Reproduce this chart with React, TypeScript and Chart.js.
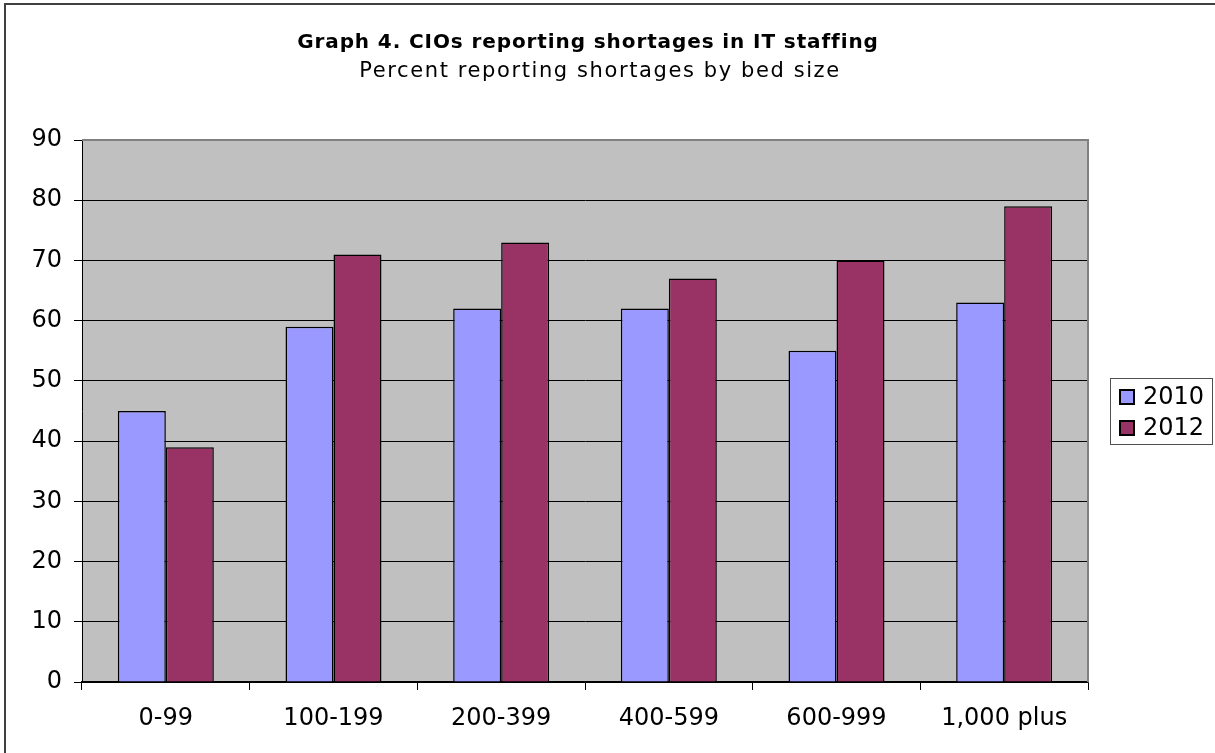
import React, { useEffect, useRef } from "react";
import { Chart, registerables } from "chart.js";

Chart.register(...registerables);

// Bed-size groups and the share of CIOs reporting staffing shortages
const categories = ["0-99", "100-199", "200-399", "400-599", "600-999", "1,000 plus"];
const seriesLabels = ["2010", "2012"];
const values2010 = [45, 59, 62, 62, 55, 63];
const values2012 = [39, 71, 73, 67, 70, 79];
const yMin = 0;
const yMax = 90;
const yStep = 10;

const titleText = "Graph 4. CIOs reporting shortages in IT staffing";
const subtitleText = "Percent reporting shortages by bed size";

const FONT = "'DejaVu Sans', Verdana, sans-serif";

// Frame, plot background, headings and boxed legend drawn on the canvas
const decorPlugin = {
  id: "decor",
  beforeDraw(chart: any) {
    const { ctx, chartArea, width, height } = chart;
    ctx.save();
    ctx.fillStyle = "#ffffff";
    ctx.fillRect(0, 0, width, height);
    // outer chart frame
    ctx.strokeStyle = "#404040";
    ctx.lineWidth = 2;
    ctx.beginPath();
    ctx.moveTo(5, height);
    ctx.lineTo(5, 4);
    ctx.lineTo(width, 4);
    ctx.stroke();
    // plot background
    ctx.fillStyle = "#C0C0C0";
    ctx.fillRect(chartArea.left, chartArea.top, chartArea.right - chartArea.left, chartArea.bottom - chartArea.top);
    // headings
    ctx.fillStyle = "#000000";
    ctx.textAlign = "center";
    ctx.textBaseline = "alphabetic";
    ctx.font = `bold 20px ${FONT}`;
    ctx.letterSpacing = "0.9px";
    ctx.fillText(titleText, 588, 48);
    ctx.font = `21px ${FONT}`;
    ctx.letterSpacing = "1.6px";
    ctx.fillText(subtitleText, 600, 77);
    ctx.letterSpacing = "0px";
    ctx.restore();
  },
  beforeDatasetsDraw(chart: any) {
    const { ctx, chartArea } = chart;
    ctx.save();
    ctx.strokeStyle = "#808080";
    ctx.lineWidth = 2;
    ctx.beginPath();
    ctx.moveTo(chartArea.left, chartArea.top);
    ctx.lineTo(chartArea.right, chartArea.top);
    ctx.lineTo(chartArea.right, chartArea.bottom);
    ctx.stroke();
    ctx.restore();
  },
  afterDraw(chart: any) {
    const { ctx } = chart;
    const datasets = chart.data.datasets;
    const boxL = 1110;
    const boxT = 378;
    const boxW = 102;
    const rowH = 31;
    const boxH = 66;
    ctx.save();
    ctx.fillStyle = "#ffffff";
    ctx.fillRect(boxL, boxT, boxW, boxH);
    ctx.strokeStyle = "#505050";
    ctx.lineWidth = 1;
    ctx.strokeRect(boxL + 0.5, boxT + 0.5, boxW, boxH);
    ctx.font = `24px ${FONT}`;
    ctx.textAlign = "left";
    ctx.textBaseline = "middle";
    datasets.forEach((ds: any, i: number) => {
      const cy = boxT + 19 + i * rowH;
      ctx.fillStyle = ds.backgroundColor;
      ctx.fillRect(1120, cy - 7, 14, 14);
      ctx.strokeStyle = "#000000";
      ctx.lineWidth = 2;
      ctx.strokeRect(1120, cy - 7, 14, 14);
      ctx.fillStyle = "#000000";
      ctx.fillText(ds.label, 1143, cy + 1);
    });
    ctx.restore();
  },
};

export default function App() {
  const canvasRef = useRef<HTMLCanvasElement | null>(null);

  useEffect(() => {
    if (!canvasRef.current) return;
    const chart = new Chart(canvasRef.current, {
      type: "bar",
      data: {
        labels: categories,
        datasets: [
          {
            label: seriesLabels[0],
            data: values2010,
            backgroundColor: "#9999FF",
            borderColor: "#000000",
            borderWidth: 1.5,
          },
          {
            label: seriesLabels[1],
            data: values2012,
            backgroundColor: "#993366",
            borderColor: "#000000",
            borderWidth: 1.5,
          },
        ],
      },
      options: {
        responsive: false,
        animation: false,
        devicePixelRatio: 1,
        categoryPercentage: 0.5725,
        barPercentage: 1,
        layout: { padding: { top: 140, right: 127, left: 0, bottom: 0 } },
        plugins: {
          legend: { display: false },
          title: { display: false },
          tooltip: { enabled: false },
        },
        font: { family: FONT },
        scales: {
          x: {
            grid: {
              display: true,
              drawOnChartArea: false,
              drawTicks: true,
              tickLength: 8,
              tickColor: "#000000",
              color: "#000000",
            },
            border: { display: true, color: "#000000", width: 1.5 },
            ticks: {
              color: "#000000",
              padding: 14,
              font: { family: FONT, size: 24 },
            },
            afterFit(scale: any) {
              scale.height = 71;
            },
          },
          y: {
            min: yMin,
            max: yMax,
            grid: {
              color: "#000000",
              lineWidth: 1,
              tickLength: 8,
              tickColor: "#000000",
            },
            border: { display: true, color: "#000000", width: 1 },
            ticks: {
              stepSize: yStep,
              color: "#000000",
              padding: 12,
              font: { family: FONT, size: 24 },
            },
            afterFit(scale: any) {
              scale.width = 82;
            },
          },
        },
      },
      plugins: [decorPlugin],
    });
    return () => chart.destroy();
  }, []);

  return (
    <div style={{ position: "fixed", left: 0, top: 0, width: 1215, height: 753, background: "#fff" }}>
      <canvas ref={canvasRef} width={1215} height={753} style={{ display: "block" }} />
    </div>
  );
}
